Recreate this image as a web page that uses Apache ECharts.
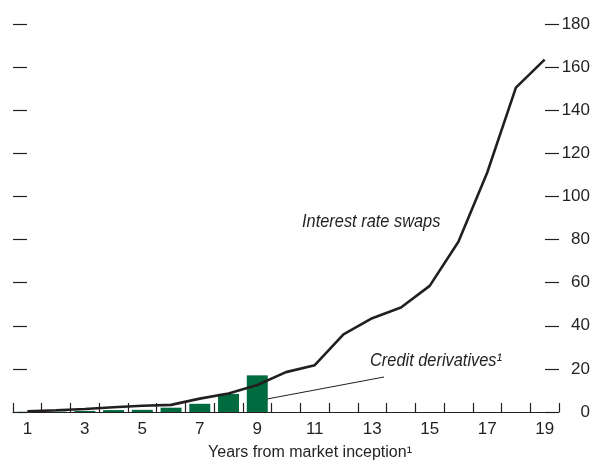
<!DOCTYPE html>
<html>
<head>
<meta charset="utf-8">
<script src="https://cdn.jsdelivr.net/npm/echarts@6/dist/echarts.min.js"></script>
<style>
html,body{margin:0;padding:0;background:#fff;}
#chart{width:593px;height:466px;}
</style>
</head>
<body>
<div id="chart"></div>
<script>
var years = ['1','2','3','4','5','6','7','8','9','10','11','12','13','14','15','16','17','18','19'];
var interestRateSwaps = [0.3, 0.8, 1.4, 2.2, 2.9, 3.3, 6.2, 8.6, 12.5, 18.5, 21.7, 36, 43.5, 48.5, 58.5, 79, 111, 150.5, 163.5];
var creditDerivatives = [0.1, 0.2, 0.5, 0.9, 1.0, 2.0, 3.8, 8.4, 17.0];
var yTicks = { min: 0, max: 180, interval: 20 };

var FONT = "'Liberation Sans', Arial, sans-serif";
var TXT = '#231f20';

var chart = echarts.init(document.getElementById('chart'));
chart.setOption({
  animation: false,
  backgroundColor: '#fff',
  textStyle: { fontFamily: FONT },
  grid: { left: 13, right: 34, top: 24, bottom: 52 },
  xAxis: {
    type: 'category',
    data: years,
    boundaryGap: true,
    name: 'Years from market inception\u00b9',
    nameLocation: 'middle',
    nameGap: 33,
    nameTextStyle: { color: TXT, fontSize: 16, fontFamily: FONT, padding: [0, 0, 0, 48] },
    axisLine: { show: true, lineStyle: { color: '#231f20', width: 1.2 } },
    axisTick: { show: true, inside: true, length: 9, interval: 0, alignWithLabel: false, lineStyle: { color: '#231f20', width: 1.2 } },
    axisLabel: { interval: 1, color: TXT, fontSize: 17, fontFamily: FONT, margin: 9 },
    splitLine: { show: false }
  },
  yAxis: [
    {
      type: 'value', position: 'right',
      min: yTicks.min, max: yTicks.max, interval: yTicks.interval,
      axisLine: { show: false },
      axisTick: { show: true, inside: true, length: 14, lineStyle: { color: '#231f20', width: 1.2 } },
      axisLabel: { align: 'right', margin: 31, color: TXT, fontSize: 17, fontFamily: FONT },
      splitLine: { show: false }
    },
    {
      type: 'value', position: 'left',
      min: yTicks.min, max: yTicks.max, interval: yTicks.interval,
      axisLine: { show: false },
      axisTick: { show: true, inside: true, length: 14, lineStyle: { color: '#231f20', width: 1.2 } },
      axisLabel: { show: false },
      splitLine: { show: false }
    }
  ],
  series: [
    {
      name: 'Credit derivatives',
      type: 'bar',
      data: creditDerivatives,
      barWidth: '73%',
      itemStyle: { color: '#006b3f' }
    },
    {
      name: 'Interest rate swaps',
      type: 'line',
      data: interestRateSwaps,
      symbol: 'none',
      lineStyle: { color: '#231f20', width: 2.6 },
      z: 3
    }
  ],
  graphic: [
    {
      type: 'text', x: 302, y: 213, scaleX: 0.91,
      style: { text: 'Interest rate swaps', font: 'italic 18px ' + FONT, fill: TXT }
    },
    {
      type: 'text', x: 370, y: 352, scaleX: 0.91,
      style: { text: 'Credit derivatives\u00b9', font: 'italic 18px ' + FONT, fill: TXT }
    },
    {
      type: 'line',
      shape: { x1: 267, y1: 399, x2: 384, y2: 377 },
      style: { stroke: '#231f20', lineWidth: 1 }
    }
  ]
});
</script>
</body>
</html>
